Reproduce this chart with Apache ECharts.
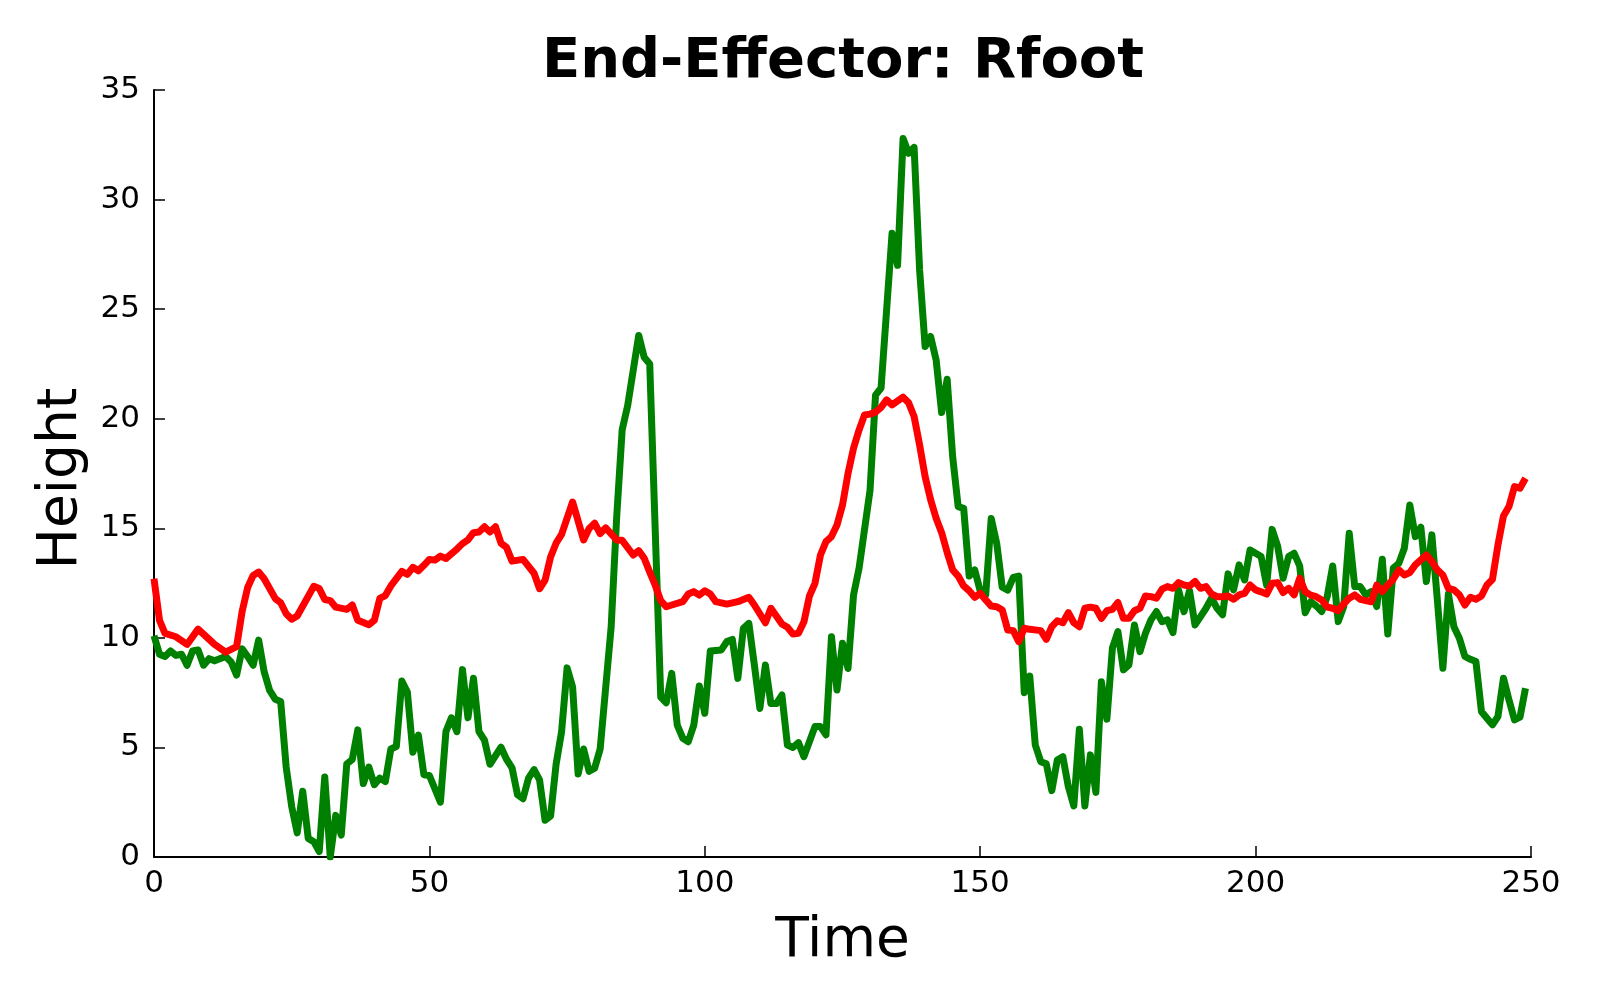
<!DOCTYPE html>
<html>
<head>
<meta charset="utf-8">
<script src="https://cdn.jsdelivr.net/npm/echarts@6/dist/echarts.min.js"></script>
<style>
html,body{margin:0;padding:0;background:#fff;}
#chart{width:1600px;height:1000px;}
</style>
</head>
<body>
<div id="chart"></div>
<script>
const titleText = "End-Effector: Rfoot";
const xName = "Time";
const yName = "Height";

// Green series: [time, height]
const greenSeries = [
[0,10.1],[1,9.25],[2,9.15],[3,9.4],[4,9.2],[5,9.25],[6,8.75],[7,9.4],[8,9.45],[9,8.75],[10,9.05],[11,8.95],[13,9.15],[14,8.9],[15,8.3],[16,9.5],[17,9.15],[18,8.75],[19,9.9],[20,8.45],
[21,7.6],[22,7.2],[23,7.1],[24,4.1],[25,2.3],[26,1.1],[27,3.0],[28,0.85],[29,0.7],[30,0.25],[31,3.65],[32,0],[33,1.9],[34,1.0],[35,4.25],[36,4.45],[37,5.8],[38,3.35],[39,4.1],[40,3.3],
[41,3.6],[42,3.44],[43,4.93],[44,5.04],[45,8.03],[46,7.53],[47,4.78],[48,5.56],[49,3.75],[50,3.72],[52,2.5],[53,5.72],[54,6.35],[55,5.72],[56,8.55],[57,6.35],[58,8.16],[59,5.72],[60,5.33],
[61,4.23],[63,5.01],[64,4.46],[65,4.07],[66,2.84],[67,2.66],[68,3.6],[69,3.99],[70,3.52],[71,1.68],[72,1.87],[73,4.23],[74,5.72],[75,8.63],[76,7.76],[77,3.79],[78,4.93],[79,3.91],[80,4.05],
[81,4.93],[83,10.5],[84,15.5],[85,19.5],[86,20.6],[88,23.8],[89,22.8],[90,22.5],[92,7.3],[93,7.04],[94,8.38],[95,6.02],[96,5.42],[97,5.26],[98,6.02],[99,7.8],[100,6.56],
[101,9.4],[103,9.45],[104,9.83],[105,9.93],[106,8.15],[107,10.43],[108,10.66],[109,8.76],[110,6.78],[111,8.76],[112,7.0],[113,7.0],[114,7.39],[115,5.11],[116,5.0],[117,5.22],[118,4.58],[120,5.95],
[121,5.95],[122,5.57],[123,10.05],[124,7.62],[125,9.75],[126,8.6],[127,11.95],[128,13.17],[130,16.74],[131,21.08],[132,21.4],[134,28.46],[135,27.0],[136,32.79],[137,32.11],[138,32.38],[139,26.79],[140,23.29],
[141,23.75],[142,22.68],[143,20.28],[144,21.8],[145,18.27],[146,15.99],[147,15.91],[148,12.82],[149,13.1],[150,12.15],[151,11.96],[152,15.45],[153,14.31],[154,12.31],[155,12.18],[156,12.76],[157,12.82],[158,7.5],[159,8.26],[160,5.11],
[161,4.35],[162,4.25],[163,3.03],[164,4.43],[165,4.58],[166,3.21],[167,2.33],[168,5.83],[169,2.33],[170,4.66],[171,2.95],[172,8.0],[173,6.29],[174,9.53],[175,10.29],[176,8.54],[177,8.77],[178,10.59],[179,9.37],[180,10.21],
[181,10.82],[182,11.2],[183,10.74],[184,10.82],[185,10.24],[186,12.19],[187,11.2],[188,12.16],[189,10.59],[190,10.97],[191,11.35],[192,11.81],[193,11.35],[194,11.05],[195,12.92],[196,12.19],[197,13.33],[198,12.64],[199,14.01],[200,13.86],
[201,13.71],[202,12.41],[203,14.95],[204,14.19],[205,12.72],[206,13.71],[207,13.86],[208,13.28],[209,11.15],[210,11.65],[211,11.46],[212,11.2],[213,11.88],[214,13.28],[215,10.74],[216,11.43],[217,14.77],[218,12.34],[219,12.34],[220,11.96],
[221,12.11],[222,11.43],[223,13.59],[224,10.18],[225,13.18],[226,13.4],[227,14.09],[228,16.06],[229,14.62],[230,15.05],[231,12.57],[232,14.7],[233,11.73],[234,8.61],[235,12.0],[236,10.51],[237,9.98],[238,9.15],[239,9.02],[240,8.92],
[241,6.64],[242,6.33],[243,6.03],[244,6.41],[245,8.16],[246,7.17],[247,6.26],[248,6.38],[249,7.7]
];

// Red series: [time, height]
const redSeries = [
[0,12.7],[1,10.8],[2,10.2],[4,10.05],[6,9.7],[8,10.4],[11,9.7],[13,9.35],[15,9.6],[16,11.2],[17,12.3],[18,12.85],[19,13.0],[20,12.7],
[22,11.8],[23,11.6],[24,11.1],[25,10.85],[26,11.0],[29,12.35],[30,12.25],[31,11.75],[32,11.7],[33,11.4],[35,11.3],[36,11.5],[37,10.8],[39,10.6],[40,10.8],
[41,11.8],[42,11.93],[43,12.37],[45,13.03],[46,12.9],[47,13.22],[48,13.06],[49,13.31],[50,13.58],[51,13.55],[52,13.73],[53,13.62],[55,14.05],[56,14.3],[57,14.47],[58,14.8],[59,14.83],[60,15.07],
[61,14.83],[62,15.07],[63,14.32],[64,14.13],[65,13.5],[67,13.58],[69,12.95],[70,12.24],[71,12.63],[72,13.69],[73,14.32],[74,14.72],[76,16.2],[78,14.47],[79,14.99],[80,15.23],
[81,14.76],[82,15.02],[84,14.47],[85,14.45],[87,13.78],[88,13.98],[89,13.63],[90,13.0],[91,12.4],[92,11.7],[93,11.42],[94,11.5],[96,11.65],[97,12.0],[98,12.11],[99,11.95],[100,12.15],
[101,12.0],[102,11.65],[104,11.54],[106,11.65],[108,11.85],[109,11.5],[111,10.69],[112,11.35],[114,10.63],[115,10.48],[116,10.18],[117,10.21],[118,10.74],[119,11.91],[120,12.49],
[121,13.78],[122,14.39],[123,14.62],[124,15.15],[125,16.06],[126,17.5],[127,18.65],[128,19.48],[129,20.17],[130,20.21],[131,20.3],[132,20.52],[133,20.86],[134,20.63],[136,20.98],[137,20.73],[138,20.1],[139,18.8],[140,17.36],
[141,16.3],[142,15.46],[143,14.8],[144,13.9],[145,13.1],[146,12.82],[147,12.37],[148,12.15],[149,11.85],[150,12.03],[151,11.73],[152,11.45],[153,11.42],[154,11.27],[155,10.36],[156,10.33],[157,9.83],[158,10.44],[159,10.39],
[161,10.33],[162,9.93],[163,10.51],[164,10.78],[165,10.69],[166,11.15],[167,10.69],[168,10.51],[169,11.35],[170,11.4],[171,11.35],[172,10.89],[173,11.24],[174,11.3],[175,11.61],[176,10.89],[177,10.89],[178,11.24],[179,11.35],[180,11.91],
[181,11.88],[182,11.81],[183,12.22],[184,12.34],[185,12.26],[186,12.52],[187,12.41],[188,12.37],[189,12.57],[190,12.26],[191,12.34],[192,12.0],[193,11.88],[194,11.88],[195,11.91],[196,11.76],[197,11.96],[198,12.03],[199,12.41],[200,12.19],
[201,12.1],[202,12.0],[203,12.49],[204,12.52],[205,12.07],[206,12.26],[207,11.96],[208,12.72],[209,12.11],[210,11.95],[211,11.88],[212,11.73],[213,11.4],[214,11.35],[215,11.24],[216,11.55],[217,11.81],[218,11.96],[219,11.76],[220,11.7],
[221,11.65],[222,12.41],[223,12.11],[224,12.41],[225,12.67],[226,13.1],[227,12.87],[228,12.98],[229,13.33],[230,13.56],[231,13.78],[232,13.48],[233,13.1],[234,12.87],[235,12.26],[236,12.19],[237,11.96],[238,11.5],[239,11.85],[240,11.76],
[241,11.91],[242,12.41],[243,12.67],[244,14.24],[245,15.56],[246,15.99],[247,16.9],[248,16.83],[249,17.28]
];

const FONT = "DejaVu Sans";
const chart = echarts.init(document.getElementById('chart'), null, {renderer:'canvas'});
chart.setOption({
  animation: false,
  backgroundColor: '#ffffff',
  textStyle: {fontFamily: FONT, color: '#000'},
  title: {
    text: titleText,
    left: 838, top: 29,
    textAlign: 'center',
    textStyle: {fontFamily: FONT, fontSize: 56, fontWeight: 'bold', color: '#000'}
  },
  grid: {left: 154, right: 69, top: 90, bottom: 143, containLabel: false},
  xAxis: {
    type: 'value', min: 0, max: 250, interval: 50,
    name: xName, nameLocation: 'middle', nameGap: 57,
    nameTextStyle: {fontFamily: FONT, fontSize: 55, color: '#000'},
    axisLine: {show: true, onZero: false, lineStyle: {color: '#000', width: 2}},
    axisTick: {show: true, inside: true, length: 11, lineStyle: {color: '#000', width: 1.5}},
    axisLabel: {margin: 11, fontFamily: FONT, fontSize: 31, color: '#000'},
    splitLine: {show: false}
  },
  yAxis: {
    type: 'value', min: 0, max: 35, interval: 5,
    name: yName, nameLocation: 'middle', nameGap: 63, nameRotate: 90,
    nameTextStyle: {fontFamily: FONT, fontSize: 55, color: '#000', padding: [0, 10, 0, 0]},
    axisLine: {show: true, onZero: false, lineStyle: {color: '#000', width: 2}},
    axisTick: {show: true, inside: true, length: 11, lineStyle: {color: '#000', width: 1.5}},
    axisLabel: {margin: 14, fontFamily: FONT, fontSize: 31, color: '#000'},
    splitLine: {show: false}
  },
  series: [
    {type: 'line', data: greenSeries, showSymbol: false, symbol: 'none',
     lineStyle: {color: '#008000', width: 7, join: 'round'}, itemStyle: {color: '#008000'}, z: 2},
    {type: 'line', data: redSeries, showSymbol: false, symbol: 'none',
     lineStyle: {color: '#ff0000', width: 7, join: 'round'}, itemStyle: {color: '#ff0000'}, z: 3}
  ]
});
</script>
</body>
</html>
